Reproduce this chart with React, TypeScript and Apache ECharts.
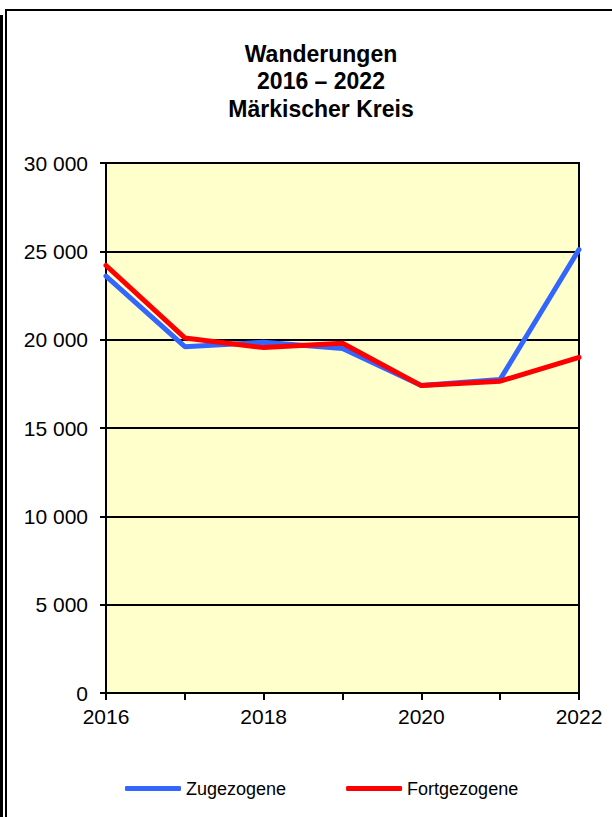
import React, { useEffect, useRef } from "react";
import * as echarts from "echarts";

const years = ["2016", "2017", "2018", "2019", "2020", "2021", "2022"];
const zugezogene = [23600, 19600, 19850, 19500, 17400, 17750, 25100];
const fortgezogene = [24200, 20100, 19550, 19800, 17400, 17650, 19000];
const titleLines = ["Wanderungen", "2016 – 2022", "Märkischer Kreis"];
const seriesNames = ["Zugezogene", "Fortgezogene"];

const FONT = "'Liberation Sans', Arial, sans-serif";

function fmt(v: number): string {
  return String(v).replace(/\B(?=(\d{3})+(?!\d))/g, " ");
}

export default function App() {
  const ref = useRef<HTMLDivElement>(null);
  useEffect(() => {
    document.body.style.margin = "0";
    if (!ref.current) return;
    const chart = echarts.init(ref.current, undefined, { renderer: "svg" });
    const titleY = [53.7, 81.3, 109];
    chart.setOption({
      animation: false,
      backgroundColor: "#ffffff",
      textStyle: { fontFamily: FONT },
      graphic: [
        { type: "rect", shape: { x: 0, y: 15, width: 3, height: 810 }, style: { fill: "#000" }, silent: true },
        { type: "rect", shape: { x: 5, y: 9, width: 2, height: 810 }, style: { fill: "#000" }, silent: true },
        { type: "rect", shape: { x: 5, y: 9, width: 620, height: 2 }, style: { fill: "#000" }, silent: true },
        ...titleLines.map((t, i) => ({
          type: "text",
          x: 321,
          y: titleY[i],
          silent: true,
          style: {
            text: t,
            fill: "#000",
            font: `bold 23px ${FONT}`,
            textAlign: "center",
            textVerticalAlign: "middle",
          },
        })),
      ],
      grid: {
        left: 106,
        right: 33,
        top: 163,
        bottom: 124,
        show: true,
        backgroundColor: "#FFFFCC",
        borderColor: "#000",
        borderWidth: 2,
      },
      legend: {
        data: seriesNames.map((n) => ({ name: n, icon: "roundRect" })),
        left: 125,
        top: 779.5,
        padding: 0,
        itemWidth: 56,
        itemHeight: 5,
        itemGap: 60,
        textStyle: { color: "#000", fontSize: 18, fontFamily: FONT },
      },
      xAxis: {
        type: "category",
        data: years,
        boundaryGap: false,
        axisLine: { lineStyle: { color: "#000", width: 2 } },
        axisTick: { show: true, interval: 0, length: 7, lineStyle: { color: "#000", width: 2 } },
        axisLabel: { interval: 1, color: "#000", fontSize: 21, margin: 13, fontFamily: FONT },
        splitLine: { show: false },
      },
      yAxis: {
        type: "value",
        min: 0,
        max: 30000,
        interval: 5000,
        axisLine: { show: true, lineStyle: { color: "#000", width: 2 } },
        axisTick: { show: true, length: 6, lineStyle: { color: "#000", width: 2 } },
        axisLabel: { color: "#000", fontSize: 21, margin: 18, fontFamily: FONT, formatter: (v: number) => fmt(v) },
        splitLine: { show: true, lineStyle: { color: "#000", width: 2 } },
      },
      series: [
        {
          name: seriesNames[0],
          type: "line",
          data: zugezogene,
          symbol: "none",
          color: "#3366FF",
          lineStyle: { color: "#3366FF", width: 5, cap: "round" },
        },
        {
          name: seriesNames[1],
          type: "line",
          data: fortgezogene,
          symbol: "none",
          color: "#FF0000",
          lineStyle: { color: "#FF0000", width: 5, cap: "round" },
        },
      ],
    });
    return () => chart.dispose();
  }, []);
  return <div ref={ref} style={{ width: 612, height: 817 }} />;
}
